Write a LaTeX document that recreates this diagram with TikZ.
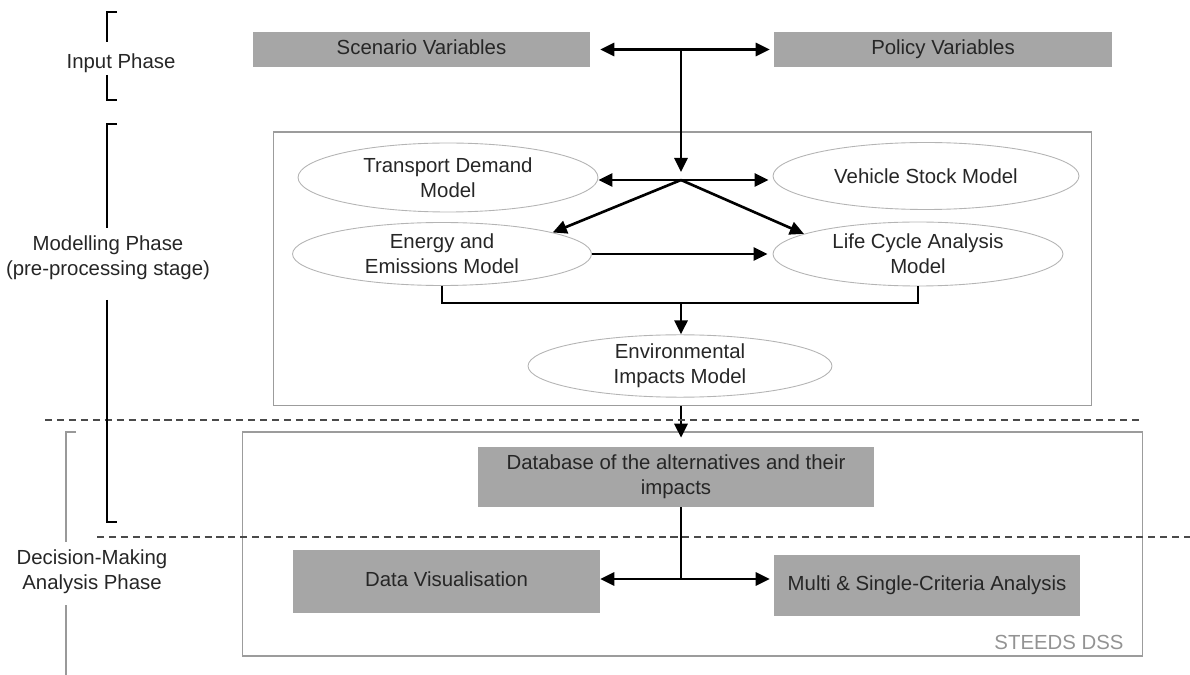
\documentclass[tikz,border=0pt]{standalone}
\usepackage{fontspec}
\setmainfont{Liberation Sans}
\usepackage{xcolor}
\usetikzlibrary{
    arrows.meta,
    shapes.geometric,
    positioning
}
\definecolor{boxgray}{HTML}{A6A6A6}
\definecolor{framegray}{HTML}{9C9C9C}
\definecolor{ovalgray}{HTML}{B4B4B4}
\definecolor{dashgray}{HTML}{4A4A4A}

\begin{document}
\begin{tikzpicture}[x=0.02cm, y=-0.02cm,
    every node/.style={font=\fontsize{11.6}{14.3}\selectfont, text=black!85, align=center},
    varbox/.style={rectangle, fill=boxgray, inner sep=0pt},
    ovalnode/.style={ellipse, draw=ovalgray, line width=0.5pt, fill=white, inner sep=0pt},
    panel/.style={rectangle, draw=framegray, line width=0.6pt, inner sep=0pt},
    arr/.style={line width=1.5pt, -{Triangle[length=8pt,width=7.5pt]}},
    dblarr/.style={line width=1.5pt, {Triangle[length=8pt,width=7.5pt]}-{Triangle[length=8pt,width=7.5pt]}},
    bus/.style={line width=1.5pt},
    phaseline/.style={draw=dashgray, line width=1.2pt, dash pattern=on 4pt off 2.8pt},
    brk/.style={line width=1.4pt}]
                        \useasboundingbox (0, 0) rectangle (1190, 675);

                        \node[panel, minimum width=16.38cm, minimum height=5.48cm] (modelbox) at (682.5, 269) {};
                        \node[panel, minimum width=18.02cm, minimum height=4.48cm] (dssbox) at (692.5, 544) {};

                        \node[varbox, minimum width=6.74cm, minimum height=0.7cm] (scen) at (421.5, 49.5) {Scenario Variables\strut};
                        \node[varbox, minimum width=6.76cm, minimum height=0.7cm] (pol) at (943, 49.5) {Policy Variables\strut};

                        \node[ovalnode, minimum width=6cm, minimum height=1.38cm] (tdm) at (448, 177.5) {Transport Demand\\Model};
                        \node[ovalnode, minimum width=6.12cm, minimum height=1.34cm] (vsm) at (926, 176) {Vehicle Stock Model};
                        \node[ovalnode, minimum width=5.98cm, minimum height=1.26cm] (eem) at (442, 254) {Energy and\\Emissions Model};
                        \node[ovalnode, minimum width=5.8cm, minimum height=1.28cm] (lca) at (918, 254) {Life Cycle Analysis\\Model};
                        \node[ovalnode, minimum width=6.08cm, minimum height=1.16cm] (env) at (680, 366) {Environmental\\Impacts Model};

                        \node[varbox, minimum width=7.92cm, minimum height=1.2cm] (db) at (676, 477) {Database of the alternatives and their\\impacts};
                        \node[varbox, minimum width=6.14cm, minimum height=1.26cm] (dv) at (446.5, 581.5) {Data Visualisation\strut};
                        \node[varbox, minimum width=6.12cm, minimum height=1.22cm] (mca) at (927, 585.5) {Multi \& Single-Criteria Analysis\strut};
                        \node[text=gray!85] (dsslab) at (1059, 642) {STEEDS DSS};

                        \coordinate (topj) at (681, 49.5);
                        \coordinate (midj) at (681, 180);
                        \coordinate (busj) at (681, 303);
                        \coordinate (botj) at (681, 579);

                        \draw[dblarr, shorten <=0.2cm, shorten >=0.08cm] (scen) -- (pol);
                        \draw[arr, shorten >=0.16cm] (topj) -- (midj);
                        \draw[arr] (midj) -- (midj -| tdm.east);
                        \draw[arr, shorten >=0.08cm] (midj) -- (midj -| vsm.west);
                        \draw[arr] (midj) -- (eem.11);
                        \draw[arr] (midj) -- (lca.170);
                        \draw[arr, shorten >=0.1cm] (eem.east) -- (lca.west);
                        \draw[bus] (eem.south) |- (busj) -| (lca.south);
                        \draw[arr] (busj) -- (busj |- env.north);
                        \draw[arr, shorten >=0.18cm] (modelbox.south -| busj) -- (db.north -| busj);
                        \draw[bus] (db.south -| botj) -- (botj);
                        \draw[arr] (botj) -- (botj -| dv.east);
                        \draw[arr, shorten >=0.08cm] (botj) -- (botj -| mca.west);

                        \draw[phaseline] (45, 420) -- (1143, 420);
                        \draw[phaseline] (97, 537) -- (1190, 537);

                        \node (inputlab) at (121, 63) {Input Phase};
                        \node (modlab) at (108, 258) {Modelling Phase\\(pre-processing stage)};
                        \node (declab) at (92, 572) {Decision-Making\\Analysis Phase};
                        \draw[brk]
                        (117, 12) -- (107, 12) -- (107, 42)
                        (107, 75) -- (107, 100) -- (117, 100)
                        (117, 124) -- (107, 124) -- (107, 228)
                        (107, 300) -- (107, 522) -- (117, 522);
                        \draw[brk, draw=gray!80, line width=0.9pt]
                        (76, 432) -- (66, 432) -- (66, 542)
                        (66, 605) -- (66, 675);
                    \end{tikzpicture}
\end{document}
